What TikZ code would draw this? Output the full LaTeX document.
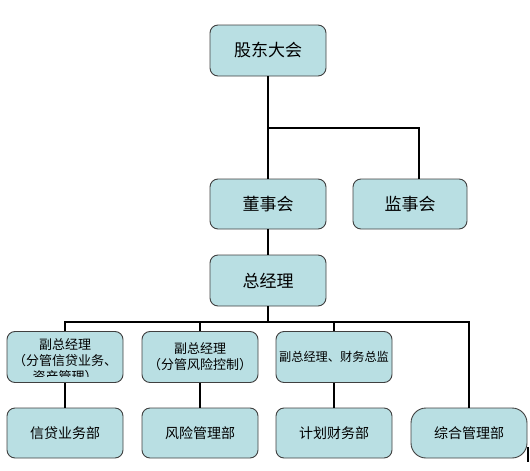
\documentclass[tikz,border=0pt]{standalone}
\usepackage{fontspec}
\newfontfamily\cjk{Noto Sans CJK SC}
\definecolor{boxfill}{RGB}{185,223,227}
\definecolor{boxline}{RGB}{64,64,64}
\tikzset{
  orgbox/.style={draw=boxline, line width=0.9pt, fill=boxfill, rounded corners=8pt,
    minimum width=116pt, minimum height=51pt, inner sep=0pt, align=center, font=\cjk},
  bigtext/.style={font=\cjk\fontsize{17}{20}\selectfont},
  midtext/.style={font=\cjk\fontsize{14}{17}\selectfont},
  smalltext/.style={font=\cjk\fontsize{13}{16}\selectfont},
  f3text/.style={font=\cjk\fontsize{12.2}{16}\selectfont},
  conn/.style={draw=black, line width=2pt}
}
\begin{document}
\begin{tikzpicture}[x=1pt,y=-1pt]
\useasboundingbox (0,0) rectangle (530,471);
% top levels
\node[orgbox, bigtext] (gd) at (268,50.5) {股东大会};
\node[orgbox, bigtext, minimum height=50pt] (ds) at (268,204) {董事会};
\node[orgbox, bigtext, minimum width=114pt, minimum height=50pt] (js) at (410,204) {监事会};
\node[orgbox, bigtext] (zjl) at (268,280.5) {总经理};
% deputies
\node[orgbox] (f1) at (65,357) {};
\begin{scope}
  \clip (10,333) rectangle (120,376.5);
  \node[smalltext, align=center] (f1t) at (65,360.5) {副总经理\\（分管信贷业务、\\资产管理）};
\end{scope}
\node[orgbox, smalltext] (f2) at (200,357) {副总经理\\（分管风险控制）};
\node[orgbox, f3text] (f3) at (334,357) {副总经理、财务总监};
% departments
\node[orgbox, midtext, minimum height=50pt] (b1) at (65,433) {信贷业务部};
\node[orgbox, midtext, minimum height=50pt] (b2) at (200,433) {风险管理部};
\node[orgbox, midtext, minimum height=50pt] (b3) at (334,433) {计划财务部};
\node[orgbox, midtext, minimum height=50pt, rounded corners=15pt] (b4) at (469,433) {综合管理部};
% connectors
\coordinate (j) at (268,128);
\coordinate (bus) at (268,322);
\draw[conn] (gd.south) -- (ds.north);
\draw[conn] (j) -| ([xshift=9pt]js.north);
\draw[conn] (ds.south) -- (zjl.north);
\draw[conn] (zjl.south) -- (bus);
\draw[conn] (f1.north) |- (bus) -| (b4.north);
\draw[conn] (f2.north) -- (f2.north |- bus);
\draw[conn] (f3.north) -- (f3.north |- bus);
\draw[conn] (f1.south) -- (b1.north);
\draw[conn] (f2.south) -- (b2.north);
\draw[conn] (f3.south) -- (b3.north);
% stray mark at right edge
\coordinate (s1) at (528,447);
\coordinate (s2) at (528,462);
\draw[conn] (s1) -- (s2);
\end{tikzpicture}
\end{document}
